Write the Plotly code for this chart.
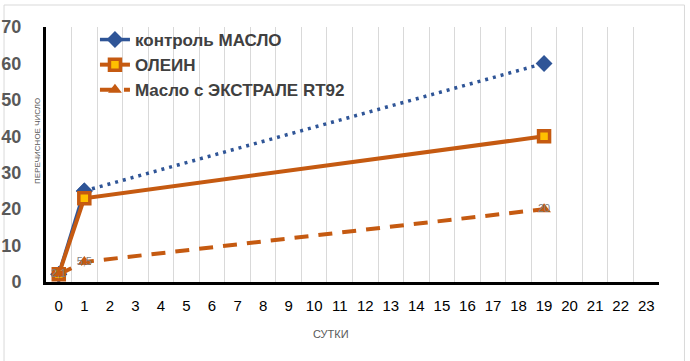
import plotly.graph_objects as go

days = ["0", "1", "19"]
all_days = [str(i) for i in range(24)]
control = [2.1, 25, 60]
olein = [2.1, 23, 40]
extrale = [2.1, 5.5, 20]
y_ticks = [0, 10, 20, 30, 40, 50, 60, 70]

BLUE = "#2F5597"
ORANGE = "#C55A11"
YELLOW = "#FFC000"

W, H = 690, 361
L, R, T, B = 46, 659.5, 27, 282


def px_x(p):
    return (p - L) / (R - L)


def px_y(p):
    return (B - p) / (B - T)


fig = go.Figure()

# control: solid first segment, dotted afterwards
fig.add_trace(go.Scatter(
    x=days[1:], y=control[1:], mode="lines",
    line=dict(color=BLUE, width=3.5, dash="3px,5px"),
    showlegend=False, hoverinfo="skip"))
fig.add_trace(go.Scatter(
    x=days, y=control, mode="markers", showlegend=False,
    marker=dict(symbol="diamond", size=13, color=BLUE)))
fig.add_trace(go.Scatter(
    x=days[:2], y=control[:2], mode="lines+markers", name="контроль МАСЛО",
    line=dict(color=BLUE, width=3.5),
    marker=dict(symbol="diamond", size=13, color=BLUE)))

fig.add_trace(go.Scatter(
    x=days, y=olein, mode="lines+markers", name="ОЛЕИН",
    line=dict(color=ORANGE, width=4),
    marker=dict(symbol="square", size=11, color=YELLOW,
                line=dict(color=ORANGE, width=3.5))))

fig.add_trace(go.Scatter(
    x=days, y=extrale, mode="lines+markers+text", name="Масло с ЭКСТРАЛЕ RT92",
    line=dict(color=ORANGE, width=4, dash="14px,10px"),
    marker=dict(symbol="triangle-up", size=12, color=ORANGE),
    text=[str(v).replace(".", ",") for v in extrale],
    textposition="middle center",
    textfont=dict(family="Liberation Sans Narrow, Liberation Sans, Arial", size=11, color="#7F7F7F")))

fig.update_layout(
    width=W, height=H,
    margin=dict(l=L, r=W - R, t=T, b=H - B, pad=0),
    paper_bgcolor="white", plot_bgcolor="white",
    showlegend=True,
    legend=dict(
        x=px_x(95), y=px_y(22), xanchor="left", yanchor="top",
        bgcolor="rgba(0,0,0,0)",
        font=dict(family="Liberation Sans, Arial", size=17, color="#404040", weight="bold"),
        tracegroupgap=0, itemwidth=30,
    ),
    xaxis=dict(
        type="category", categoryorder="array", categoryarray=all_days,
        tickvals=all_days, ticktext=all_days,
        range=[-0.5, 23.5], tickson="boundaries", automargin=False,
        showgrid=True, gridcolor="#D9D9D9", gridwidth=1,
        showline=True, linecolor="black", linewidth=3,
        ticks="", ticklabelstandoff=8,
        tickfont=dict(family="Liberation Sans Narrow, Liberation Sans, Arial", size=15, color="black"),
        zeroline=False,
    ),
    yaxis=dict(
        range=[0, 70], tickvals=y_ticks, automargin=False,
        showgrid=False, zeroline=False,
        showline=True, linecolor="black", linewidth=3,
        ticks="", ticklabelstandoff=18,
        tickfont=dict(family="Liberation Sans, Arial", size=18, color="#595959", weight="bold"),
    ),
    shapes=[dict(type="rect", xref="paper", yref="paper",
                 x0=px_x(4), x1=px_x(685), y0=px_y(5), y1=px_y(380),
                 line=dict(color="#D9D9D9", width=1), fillcolor="rgba(0,0,0,0)",
                 layer="below")],
    annotations=[
        dict(text="ПЕРЕЧИСНОЕ ЧИСЛО", xref="paper", yref="paper",
             x=px_x(37), y=px_y(141), showarrow=False, textangle=-90,
             xanchor="center", yanchor="middle",
             font=dict(family="Liberation Sans, Arial", size=8, color="#595959")),
        dict(text="СУТКИ", xref="paper", yref="paper",
             x=px_x(331), y=px_y(342), showarrow=False,
             font=dict(family="Liberation Sans Narrow, Liberation Sans, Arial", size=11, color="#595959")),
    ],
)

fig.write_html("out.html", config={"displayModeBar": False},
               post_script="document.body.style.margin='0';document.body.style.overflow='hidden';")
